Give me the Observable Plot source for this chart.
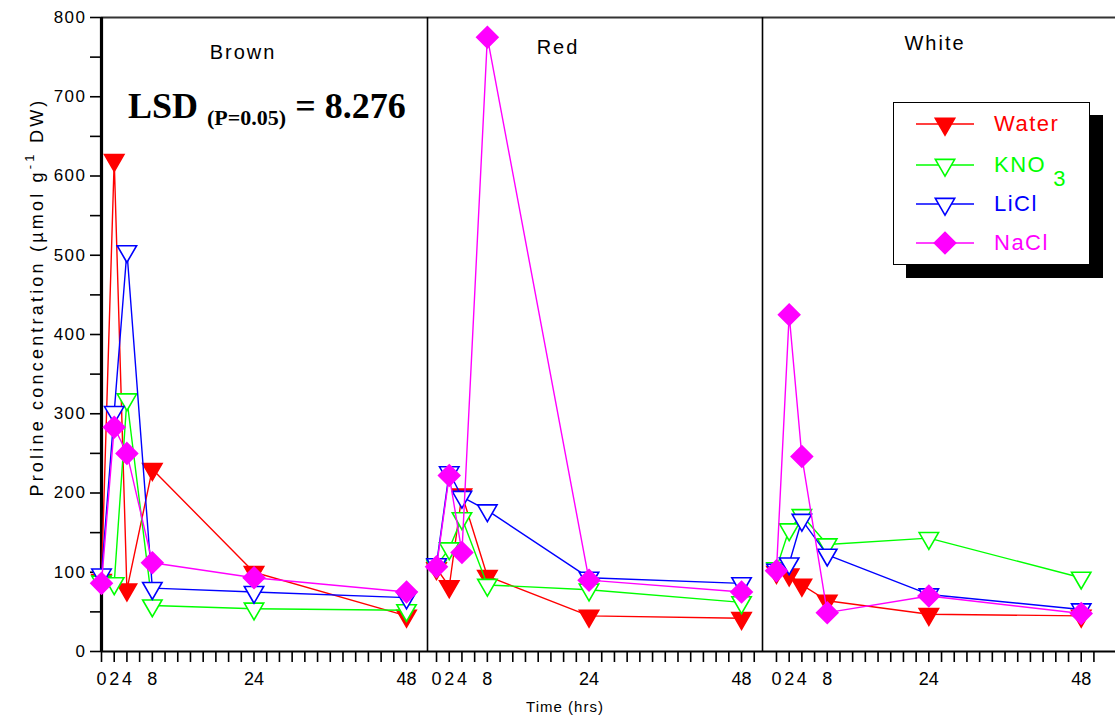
<!DOCTYPE html>
<html>
<head>
<meta charset="utf-8">
<script src="https://cdn.jsdelivr.net/npm/d3@7"></script>
<script src="https://cdn.jsdelivr.net/npm/@observablehq/plot@0.6"></script>
<style>
  body { margin: 0; background: #fff; }
  #chart { position: relative; width: 1115px; height: 718px; overflow: hidden; background: #fff;
           font-family: "Liberation Sans", Arial, sans-serif; }
  .panel { position: absolute; top: 0; }
  .panel svg { overflow: visible; }
  .panel [aria-label="x-axis tick label"] { font-family: "Liberation Sans", Arial, sans-serif; font-size: 18px; fill: #000; }
  .panel [aria-label="y-axis tick label"] { font-family: "Liberation Sans", Arial, sans-serif; font-size: 17px; letter-spacing: 1.5px; fill: #000; }
  .panel [aria-label="x-axis tick"], .panel [aria-label="y-axis tick"] { stroke: #000; stroke-width: 1.6px; }
  .ptitle { position: absolute; transform: translate(-50%, -50%); font-size: 20px; letter-spacing: 2px; color: #000; white-space: nowrap; }
  #ytitle { position: absolute; left: 36px; top: 297px; transform: translate(-50%, -50%) rotate(-90deg);
            font-size: 18px; letter-spacing: 3.2px; white-space: nowrap; color: #000; }
  #ytitle sup { font-size: 13px; position: relative; top: -2px; }
  #xtitle { position: absolute; left: 565px; top: 706px; transform: translate(-50%, -50%); font-size: 15px; letter-spacing: 1px; color: #000; }
  #lsd { position: absolute; left: 128px; top: 88px; line-height: 36px; font-family: "Liberation Serif", "Times New Roman", serif;
         font-weight: bold; font-size: 36px; white-space: nowrap; color: #000; }
  #lsd .sub { font-size: 22px; position: relative; top: 7px; }
  #legend { position: absolute; left: 893px; top: 102px; width: 195px; height: 161px; background: #fff; border: 1px solid #000;
            box-shadow: 13px 13px 0 #000; }
  .lrow { position: absolute; left: 0; height: 30px; width: 195px; }
  .lrow svg { position: absolute; left: 20px; top: 0; }
  .lrow span.t { position: absolute; left: 100px; top: 50%; transform: translateY(-50%); font-size: 22px; letter-spacing: 1.5px; white-space: nowrap; }
</style>
</head>
<body>
<div id="chart"></div>
<script>
// ---- data ----
const hours = [0, 2, 4, 8, 24, 48];
const panels = ["Brown", "Red", "White"];
const treatments = ["Water", "KNO3", "LiCl", "NaCl"];
const treatmentColors = ["#ff0000", "#00ff00", "#0000ff", "#ff00ff"];
const yTickLabels = [0, 100, 200, 300, 400, 500, 600, 700, 800];

const brownWater = [90, 620, 78, 230, 100, 45];
const brownKNO3  = [88, 86, 318, 58, 54, 52];
const brownLiCl  = [97, 302, 505, 80, 75, 68];
const brownNaCl  = [86, 283, 250, 112, 93, 75];

const redWater = [105, 82, 198, 95, 45, 42];
const redKNO3  = [108, 130, 168, 84, 78, 62];
const redLiCl  = [110, 226, 195, 178, 93, 86];
const redNaCl  = [107, 222, 125, 775, 90, 75];

const whiteWater = [100, 97, 84, 64, 47, 45];
const whiteKNO3  = [105, 154, 172, 135, 143, 93];
const whiteLiCl  = [103, 111, 166, 122, 72, 53];
const whiteNaCl  = [102, 425, 246, 49, 70, 48];

const lsdText = "LSD";
const lsdSub = "(P=0.05)";
const lsdValue = "= 8.276";

// table built from the arrays
const seriesByPanel = {
  Brown: [brownWater, brownKNO3, brownLiCl, brownNaCl],
  Red:   [redWater, redKNO3, redLiCl, redNaCl],
  White: [whiteWater, whiteKNO3, whiteLiCl, whiteNaCl]
};
const rows = [];
for (const p of panels) {
  seriesByPanel[p].forEach((vals, ti) => {
    vals.forEach((v, hi) => rows.push({panel: p, treatment: treatments[ti], hour: hours[hi], value: v}));
  });
}

// ---- layout ----
const panelSpecs = {
  Brown: {left: 0,   width: 427, marginLeft: 101, domain: [0, 51.3],     edge: 3.2, title: [243, 52]},
  Red:   {left: 427, width: 335, marginLeft: 0,   domain: [-1.42, 51.3], edge: 1.6, title: [558, 47]},
  White: {left: 762, width: 353, marginLeft: 0,   domain: [-2.2, 53.4],  edge: 1.6, title: [935, 43]}
};
const markerStyle = {
  Water: {symbol: "triangle", r: 7.2, rotate: 180, filled: true},
  KNO3:  {symbol: "triangle", r: 7.2, rotate: 180, filled: false},
  LiCl:  {symbol: "triangle", r: 7.2, rotate: 180, filled: false},
  NaCl:  {symbol: "diamond2", r: 9.6, rotate: 0,   filled: true}
};

const chart = document.getElementById("chart");

for (const p of panels) {
  const spec = panelSpecs[p];
  const data = rows.filter(d => d.panel === p);
  const marks = [
    Plot.ruleY([800], {stroke: "#333", strokeWidth: 2}),
    Plot.axisX({ticks: d3.range(0, 51, 2), tickSize: 11, tickPadding: 10,
                tickFormat: d => hours.includes(d) ? String(d) : "", label: null}),
    Plot.ruleY([0], {stroke: "#000", strokeWidth: 2}),
    Plot.ruleX([spec.domain[0]], {stroke: "#000", strokeWidth: spec.edge})
  ];
  if (p === "Brown") {
    marks.push(Plot.axisY({ticks: d3.range(0, 801, 50), tickSize: 11, tickPadding: 4,
                           tickFormat: d => yTickLabels.includes(d) ? String(d) : "", label: null}));
  }
  treatments.forEach((t, i) => {
    const d = data.filter(r => r.treatment === t);
    const m = markerStyle[t];
    marks.push(Plot.line(d, {x: "hour", y: "value", stroke: treatmentColors[i], strokeWidth: 1.4}));
    marks.push(Plot.dot(d, {x: "hour", y: "value", symbol: m.symbol, r: m.r, rotate: m.rotate,
                            fill: m.filled ? treatmentColors[i] : "#fff", stroke: treatmentColors[i], strokeWidth: 1.6}));
  });
  const svg = Plot.plot({
    width: spec.width, height: 718,
    marginTop: 17, marginBottom: 67, marginLeft: spec.marginLeft, marginRight: 0,
    x: {domain: spec.domain, label: null},
    y: {domain: [0, 800], label: null, axis: p === "Brown" ? undefined : null},
    style: {background: "transparent", overflow: "visible", fontFamily: "Liberation Sans, Arial, sans-serif"},
    marks
  });
  const wrap = document.createElement("div");
  wrap.className = "panel";
  wrap.style.left = spec.left + "px";
  wrap.appendChild(svg);
  chart.appendChild(wrap);

  const tt = document.createElement("div");
  tt.className = "ptitle";
  tt.style.left = spec.title[0] + "px";
  tt.style.top = spec.title[1] + "px";
  tt.textContent = p;
  chart.appendChild(tt);
}

// y title
const yt = document.createElement("div");
yt.id = "ytitle";
yt.innerHTML = "Proline concentration (µmol g<sup>-1</sup> DW)";
chart.appendChild(yt);

// x title
const xt = document.createElement("div");
xt.id = "xtitle";
xt.textContent = "Time (hrs)";
chart.appendChild(xt);

// LSD annotation
const lsd = document.createElement("div");
lsd.id = "lsd";
lsd.innerHTML = `${lsdText} <span class="sub">${lsdSub}</span> ${lsdValue}`;
chart.appendChild(lsd);

// legend
const legend = document.createElement("div");
legend.id = "legend";
const rowTops = [6, 47, 86, 125];
treatments.forEach((t, i) => {
  const m = markerStyle[t];
  const row = document.createElement("div");
  row.className = "lrow";
  row.style.top = rowTops[i] + "px";
  const sym = m.symbol === "triangle" ? d3.symbolTriangle : d3.symbolDiamond2;
  const path = d3.symbol(sym, Math.PI * m.r * m.r)();
  const svgNS = "http://www.w3.org/2000/svg";
  const s = document.createElementNS(svgNS, "svg");
  s.setAttribute("width", 64); s.setAttribute("height", 30);
  s.innerHTML = `<line x1="2" x2="60" y1="15" y2="15" stroke="${treatmentColors[i]}" stroke-width="1.6"/>` +
    `<path d="${path}" transform="translate(31,15) rotate(${m.rotate})" fill="${m.filled ? treatmentColors[i] : "#fff"}" stroke="${treatmentColors[i]}" stroke-width="1.6"/>`;
  row.appendChild(s);
  const label = document.createElement("span");
  label.className = "t";
  label.style.color = treatmentColors[i];
  if (t === "KNO3") {
    label.innerHTML = `KNO<span style="position:relative;top:14px;margin-left:7px">3</span>`;
  } else {
    label.textContent = t;
  }
  row.appendChild(label);
  legend.appendChild(row);
});
chart.appendChild(legend);
</script>
</body>
</html>
